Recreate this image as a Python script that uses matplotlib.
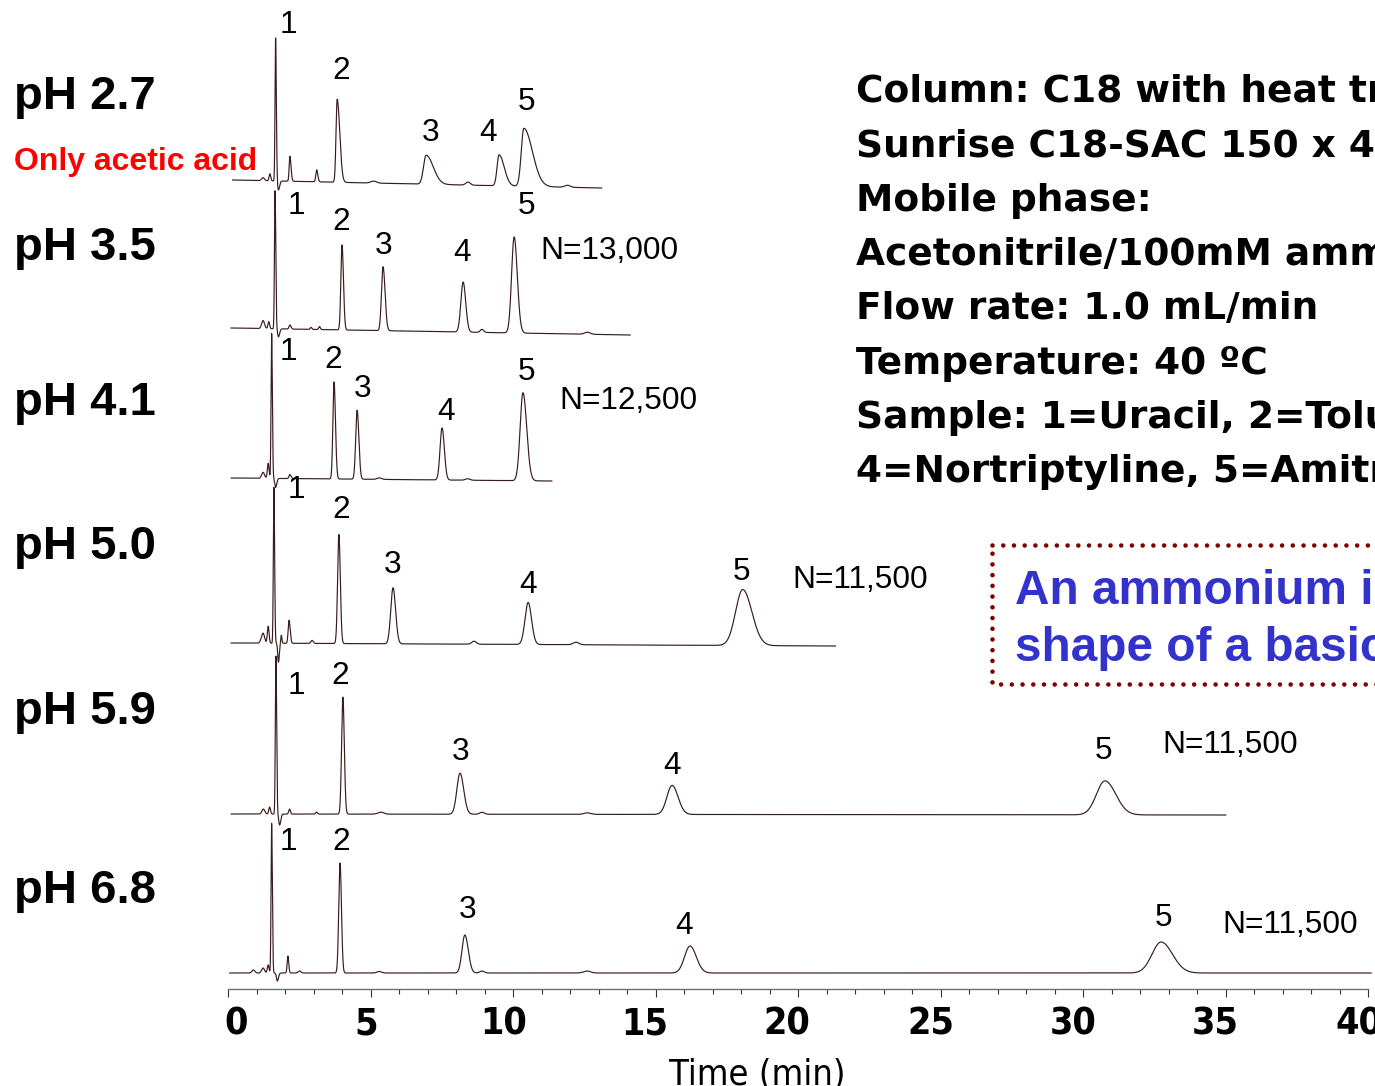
import numpy as np
import matplotlib
matplotlib.use("Agg")
import matplotlib.pyplot as plt
import matplotlib.transforms as mtransforms
from matplotlib.patches import Rectangle
from matplotlib import font_manager

# ---------------- data ----------------
ph_names = ["pH 2.7", "pH 3.5", "pH 4.1", "pH 5.0", "pH 5.9", "pH 6.8"]
plate_counts = [None, "N=13,000", "N=12,500", "N=11,500", "N=11,500", "N=11,500"]
peak_numbers = ["1", "2", "3", "4", "5"]

run_start = [0.15, 0.10, 0.10, 0.10, 0.10, 0.05]   # min
run_end = [13.1, 14.1, 11.35, 21.3, 35.0, 40.1]     # min
base_start = [809, 661, 511, 346, 175, 16]          # signal offset (stack level)
base_end = [801, 654, 508, 343, 174, 16]

# peaks of each chromatogram: retention time (min), height, sigma left, sigma right
ph27_t = [1.22, 1.46, 1.66, 1.76, 2.16, 3.10, 3.82, 5.10, 6.94, 8.41, 9.50, 10.37, 11.9]
ph27_h = [3, 7, 143, -9, 25, 12, 83, 2, 29, 3, 31, 58, 2]
ph27_sl = [0.05, 0.03, 0.02, 0.03, 0.025, 0.03, 0.04, 0.10, 0.09, 0.08, 0.07, 0.09, 0.10]
ph27_sr = [0.05, 0.03, 0.025, 0.04, 0.04, 0.04, 0.09, 0.10, 0.25, 0.08, 0.18, 0.30, 0.10]

ph35_t = [1.22, 1.42, 1.64, 1.76, 2.16, 2.90, 3.20, 3.99, 5.43, 8.24, 8.90, 10.03, 12.6]
ph35_h = [8, 7, 138, -8, 4, 2, 3, 85, 64, 50, 3, 96, 2]
ph35_sl = [0.05, 0.03, 0.02, 0.03, 0.03, 0.03, 0.03, 0.04, 0.055, 0.08, 0.06, 0.09, 0.10]
ph35_sr = [0.05, 0.03, 0.025, 0.04, 0.04, 0.03, 0.03, 0.05, 0.07, 0.09, 0.06, 0.11, 0.10]

ph41_t = [1.22, 1.40, 1.52, 1.66, 2.16, 3.71, 4.52, 5.30, 7.50, 8.40, 10.34]
ph41_h = [6, 15, 145, -9, 4, 97, 69, 1.5, 52, 1.5, 88]
ph41_sl = [0.05, 0.03, 0.02, 0.03, 0.03, 0.04, 0.05, 0.08, 0.07, 0.08, 0.10]
ph41_sr = [0.05, 0.03, 0.025, 0.04, 0.04, 0.05, 0.06, 0.08, 0.08, 0.08, 0.13]

ph50_t = [1.22, 1.40, 1.60, 1.76, 1.86, 2.13, 2.94, 3.88, 5.78, 8.62, 10.52, 12.2, 18.05]
ph50_h = [10, 17, 156, -19, 8, 23, 3, 109, 56, 3, 42, 2.5, 56]
ph50_sl = [0.06, 0.03, 0.02, 0.025, 0.02, 0.03, 0.04, 0.045, 0.08, 0.08, 0.11, 0.10, 0.25]
ph50_sr = [0.05, 0.03, 0.025, 0.03, 0.02, 0.04, 0.04, 0.05, 0.09, 0.08, 0.12, 0.10, 0.32]

ph59_t = [1.23, 1.45, 1.67, 1.80, 2.15, 3.10, 4.02, 5.35, 8.13, 8.90, 12.6, 15.57, 30.76]
ph59_h = [5, 7, 158, -11, 5, 2, 117, 2, 41, 2, 1.5, 29, 34]
ph59_sl = [0.05, 0.03, 0.02, 0.03, 0.03, 0.03, 0.045, 0.10, 0.11, 0.08, 0.12, 0.18, 0.30]
ph59_sr = [0.05, 0.03, 0.025, 0.04, 0.03, 0.03, 0.05, 0.10, 0.13, 0.08, 0.12, 0.21, 0.38]

ph68_t = [0.88, 1.22, 1.40, 1.52, 1.72, 2.09, 2.50, 3.92, 5.30, 8.30, 8.90, 12.59, 16.2, 32.73]
ph68_h = [3, 5, 8, 150, -8, 17, 2, 110, 1.5, 38, 2, 2, 27, 31]
ph68_sl = [0.05, 0.05, 0.03, 0.02, 0.03, 0.025, 0.05, 0.045, 0.08, 0.10, 0.08, 0.12, 0.19, 0.32]
ph68_sr = [0.05, 0.05, 0.03, 0.025, 0.04, 0.03, 0.05, 0.05, 0.08, 0.12, 0.08, 0.12, 0.22, 0.40]

x_ticks = [0, 5, 10, 15, 20, 25, 30, 35, 40]
x_tick_labels = ["0", "5", "10", "15", "20", "25", "30", "35", "40"]
x_title = "Time (min)"

conditions = [
    "Column: C18 with heat treatment",
    "Sunrise C18-SAC 150 x 4.6 mm",
    "Mobile phase:",
    "Acetonitrile/100mM ammonium acetate",
    "Flow rate: 1.0 mL/min",
    "Temperature: 40 \u00baC",
    "Sample: 1=Uracil, 2=Toluene, 3=Imipramine",
    "4=Nortriptyline, 5=Amitriptyline",
]
note_lines = ["An ammonium ion improves the peak", "shape of a basic compound"]
acid_note = "Only acetic acid"

peaks_t = [ph27_t, ph35_t, ph41_t, ph50_t, ph59_t, ph68_t]
peaks_h = [ph27_h, ph35_h, ph41_h, ph50_h, ph59_h, ph68_h]
peaks_sl = [ph27_sl, ph35_sl, ph41_sl, ph50_sl, ph59_sl, ph68_sl]
peaks_sr = [ph27_sr, ph35_sr, ph41_sr, ph50_sr, ph59_sr, ph68_sr]

# ---------------- layout (pixels, y downward) ----------------
W, H = 1375, 1086
X0, X40, YAX = 228.3, 1368.3, 989
ph_label_base = [109, 260, 415, 559, 724, 903]
num_label_pos = [
    [(288, 22), (341, 68), (431, 130), (488, 130), (527, 99)],
    [(296, 203), (341, 219), (384, 243), (462, 250), (527, 203)],
    [(288, 349), (333, 357), (363, 386), (446, 409), (527, 369)],
    [(296, 487), (341, 507), (393, 562), (528, 582), (742, 569)],
    [(296, 683), (340, 673), (461, 749), (672, 763), (1104, 748)],
    [(288, 839), (341, 839), (468, 907), (684, 923), (1164, 915)],
]
n_label_pos = [None, (540, 248), (559, 398), (792, 577), (1162, 742), (1222, 922)]
tick_dx = [8, -5, -10, -11, -11, -10, -10, -11, -9]

ARIAL = ["Liberation Sans", "DejaVu Sans"]
# a condensed face for the axis (the reference uses a narrow gothic font)
narrow_fp = font_manager.FontProperties(family="DejaVu Sans", stretch="condensed",
                                        weight="bold", size=27)
narrow_fp_reg = font_manager.FontProperties(family="DejaVu Sans", stretch="condensed",
                                            weight="normal", size=26)
TRACE = "#3a1c1c"

fig = plt.figure(figsize=(W / 100, H / 100), dpi=100)
fig.patch.set_facecolor("white")
px = mtransforms.Affine2D().scale(1 / W, -1 / H).translate(0, 1) + fig.transFigure

ax = fig.add_axes([X0 / W, (H - YAX) / H, (X40 - X0) / W, YAX / H])
ax.set_xlim(0, 40)
ax.set_ylim(0, YAX)
ax.patch.set_visible(False)
for s in ["top", "right", "left"]:
    ax.spines[s].set_visible(False)
ax.spines["bottom"].set_color("#707070")
ax.spines["bottom"].set_linewidth(1.0)
ax.yaxis.set_visible(False)
ax.set_xticks(x_ticks, labels=x_tick_labels)
ax.set_xticks(np.arange(0, 41, 1), minor=True)
ax.tick_params(axis="x", which="major", length=5.8, width=0.8, color="#333333",
               pad=7, labelsize=27)
ax.tick_params(axis="x", which="minor", length=3.6, width=0.8, color="#333333")
for lab, dx in zip(ax.get_xticklabels(), tick_dx):
    lab.set_fontproperties(narrow_fp)
    lab.set_transform(lab.get_transform() +
                      mtransforms.ScaledTranslation(dx / 100, 0, fig.dpi_scale_trans))


def chromatogram(t, times, heights, sl, sr):
    y = np.zeros_like(t)
    for tc, h, a, b in zip(times, heights, sl, sr):
        s = np.where(t < tc, a, b)
        y += h * np.exp(-0.5 * ((t - tc) / s) ** 2)
    return y


for i in range(len(ph_names)):
    t = np.linspace(run_start[i], run_end[i], 9000)
    base = np.linspace(base_start[i], base_end[i], t.size)
    y = base + chromatogram(t, peaks_t[i], peaks_h[i], peaks_sl[i], peaks_sr[i])
    ax.plot(t, y, color=TRACE, lw=0.85, clip_on=False, solid_joinstyle="round")

    fig.text(14, ph_label_base[i], ph_names[i], transform=px, family=ARIAL,
             fontweight="bold", fontsize=34, va="baseline", ha="left")
    for lbl, (lx, ly) in zip(peak_numbers, num_label_pos[i]):
        fig.text(lx, ly + 11.3, lbl, transform=px, family=ARIAL, fontsize=22.8,
                 va="baseline", ha="center")
    if plate_counts[i]:
        nx, ny = n_label_pos[i]
        fig.text(nx, ny + 11.3, plate_counts[i], transform=px, family=ARIAL,
                 fontsize=22.8, va="baseline", ha="left")

fig.text(14, 170, acid_note, transform=px, family=ARIAL, fontweight="bold",
         fontsize=23, color="#ff0000", va="baseline", ha="left")

for k, line in enumerate(conditions):
    fig.text(856, 102 + 54.3 * k, line, transform=px, family=["DejaVu Sans"],
             fontweight="bold", fontsize=27.0, va="baseline", ha="left")

box = Rectangle((992, 545), 500, 139, transform=px, fill=False,
                edgecolor="#800000", lw=3.3, linestyle=(0, (0.01, 2.33)),
                capstyle="round", joinstyle="round")
fig.patches.append(box)
fig.text(1015, 604, note_lines[0], transform=px, family=ARIAL, fontweight="bold",
         fontsize=34.4, color="#3333cc", va="baseline", ha="left")
fig.text(1015, 661, note_lines[1], transform=px, family=ARIAL, fontweight="bold",
         fontsize=34.4, color="#3333cc", va="baseline", ha="left")

fig.text(757, 1075, x_title, transform=px, fontproperties=narrow_fp_reg,
         va="center", ha="center")

fig.savefig("out.png", dpi=100)
